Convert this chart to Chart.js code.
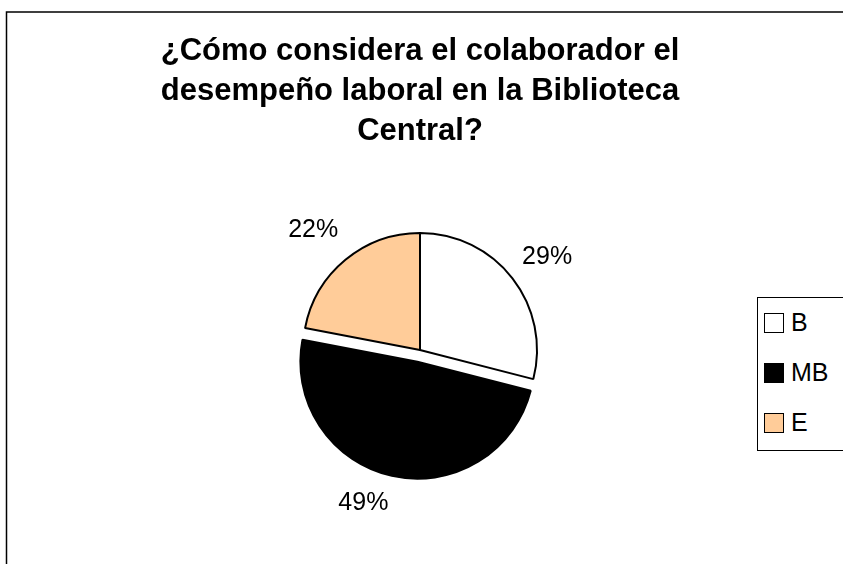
<!DOCTYPE html>
<html>
<head>
<meta charset="utf-8">
<title>Desempeño laboral</title>
<script src="https://cdn.jsdelivr.net/npm/chart.js@4.4.1/dist/chart.umd.min.js"></script>
<style>
  html, body { margin: 0; padding: 0; overflow: hidden; background: #fff; }
  #wrap { position: relative; width: 880px; height: 600px; }
  #legend {
    position: absolute; left: 757px; top: 297px;
    width: 110px; height: 154px; box-sizing: border-box;
    border: 1.5px solid #000; background: #fff;
    padding: 15px 0 0 6px;
    font-family: "Liberation Sans", Arial, sans-serif; font-size: 25px; color: #000;
  }
  .row { display: flex; align-items: flex-start; height: 20px; margin-bottom: 30px; }
  .mark { width: 20px; height: 20px; box-sizing: border-box; border: 1.5px solid #000; margin-right: 7px; }
  .txt { line-height: 20px; position: relative; top: -1px; }
</style>
</head>
<body>
<div id="wrap">
  <canvas id="pie" width="880" height="600"></canvas>
  <div id="legend"></div>
</div>
<script>
// Data
const categories = ["B", "MB", "E"];
const values = [29, 49, 22]; // percent
const titleLines = ["¿Cómo considera el colaborador el", "desempeño laboral en la Biblioteca", "Central?"];

// Style
const sliceColors = ["#FFFFFF", "#000000", "#FFCC99"];
const EXPLODE_INDEX = 1; // MB slice pulled out
const EXPLODE_PX = 12;
const LABEL_GAP = 16;
const FONT = '"Liberation Sans", Arial, sans-serif';

// Pull one slice away from the centre (Chart.js' own offset also grows the radius)
const explode = {
  id: "explode",
  afterDatasetUpdate(chart, args) {
    const arc = chart.getDatasetMeta(args.index).data[EXPLODE_INDEX];
    if (!arc || arc._exploded) return;
    const draw = arc.draw;
    arc.draw = function (ctx) {
      const mid = (this.startAngle + this.endAngle) / 2;
      ctx.save();
      ctx.translate(Math.cos(mid) * EXPLODE_PX, Math.sin(mid) * EXPLODE_PX);
      draw.call(this, ctx);
      ctx.restore();
    };
    arc._exploded = true;
  }
};

// Outer frame
const frame = {
  id: "frame",
  beforeDraw(chart) {
    const { ctx, width, height } = chart;
    ctx.save();
    ctx.fillStyle = "#fff";
    ctx.fillRect(0, 0, width, height);
    ctx.strokeStyle = "#000";
    ctx.lineWidth = 1.5;
    ctx.strokeRect(6.5, 12, width - 20, height - 30);
    ctx.restore();
  }
};

// Percent labels just outside each slice
const pctLabels = {
  id: "pctLabels",
  afterDatasetsDraw(chart) {
    const { ctx } = chart;
    const meta = chart.getDatasetMeta(0);
    ctx.save();
    ctx.font = "25px " + FONT;
    ctx.fillStyle = "#000";
    ctx.textAlign = "center";
    ctx.textBaseline = "middle";
    meta.data.forEach((arc, i) => {
      const mid = (arc.startAngle + arc.endAngle) / 2;
      const push = i === EXPLODE_INDEX ? EXPLODE_PX : 0;
      const dx = Math.cos(mid), dy = Math.sin(mid);
      const dist = push + arc.outerRadius + LABEL_GAP;
      const ax = arc.x + dx * dist;
      const ay = arc.y + dy * dist;
      const text = values[i] + "%";
      const w = ctx.measureText(text).width, h = 26;
      let x, y;
      if (dy >= 0) {
        x = dx >= 0 ? ax + w / 2 : ax - w / 2;
        y = ay + h / 2 - 1;
      } else {
        x = dx >= 0 ? ax + w / 2 - 3 : ax - w / 2 + 3;
        y = ay - h / 2 - (dx < 0 ? 4 : -2);
      }
      ctx.fillText(text, x, y);
    });
    ctx.restore();
  }
};

const ctx = document.getElementById("pie").getContext("2d");
new Chart(ctx, {
  type: "pie",
  data: {
    labels: categories,
    datasets: [{
      data: values,
      backgroundColor: sliceColors,
      borderColor: "#000",
      borderWidth: 2,
      radius: 117
    }]
  },
  options: {
    responsive: false,
    animation: false,
    layout: { padding: { left: 0, right: 40, top: 0, bottom: 60 } },
    plugins: {
      legend: { display: false },
      tooltip: { enabled: false },
      title: {
        display: true,
        text: titleLines,
        color: "#000",
        font: { family: FONT, size: 31, weight: "bold", lineHeight: 40 / 31 },
        padding: { top: 31, bottom: 9 }
      }
    }
  },
  plugins: [frame, explode, pctLabels]
});

// Legend (HTML, built from the same arrays)
const legendEl = document.getElementById("legend");
categories.forEach((c, i) => {
  const row = document.createElement("div");
  row.className = "row";
  const mark = document.createElement("span");
  mark.className = "mark";
  mark.style.background = sliceColors[i];
  const txt = document.createElement("span");
  txt.className = "txt";
  txt.textContent = c;
  row.appendChild(mark);
  row.appendChild(txt);
  legendEl.appendChild(row);
});
</script>
</body>
</html>
